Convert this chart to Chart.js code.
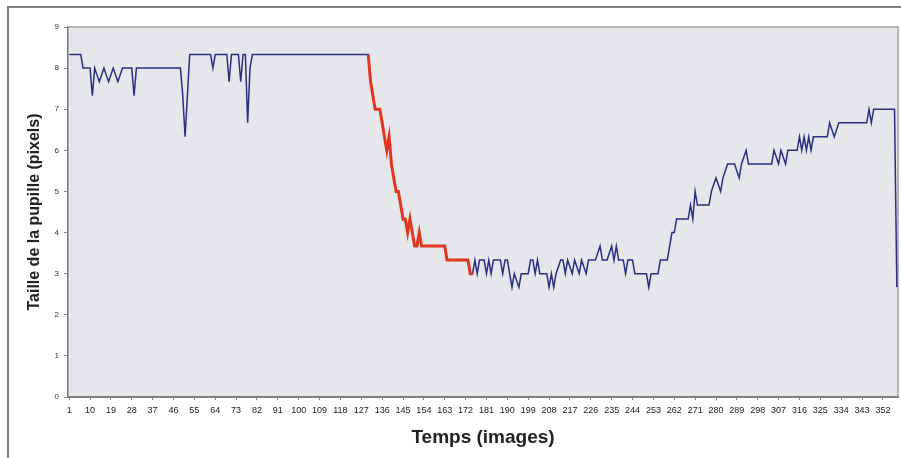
<!DOCTYPE html>
<html>
<head>
<meta charset="utf-8">
<style>
  html, body { margin: 0; padding: 0; background: #fff; }
  #wrap { width: 901px; height: 458px; }
</style>
<script src="https://cdn.jsdelivr.net/npm/chart.js@4.4.0/dist/chart.umd.min.js"></script>
</head>
<body>
<div id="wrap"><canvas id="pupil-chart" width="901" height="458"></canvas></div>
<script>
// Données (sommets de la courbe)
const frames = [
  1, 6, 7, 10, 11, 12, 14, 16, 18, 20, 22, 24, 28, 29, 30,
  49, 50, 51, 53, 62, 63, 64, 69, 70, 71, 74, 75, 76, 77, 78, 79, 80,
  130, 131, 132, 133, 135, 136, 137, 138, 139, 140, 141, 142, 143, 144, 145, 146,
  147, 148, 149, 150, 151, 152, 153, 163, 164, 173, 174, 175,
  176, 177, 178, 180, 181, 182, 183, 184, 187, 188, 189, 190, 191, 192, 193, 195, 196,
  199, 200, 201, 202, 203, 204, 207, 208, 209, 210, 211, 213,
  214, 215, 216, 218, 219, 221, 222, 224, 225, 228, 230, 231, 233, 235, 236, 237, 238,
  240, 241, 242, 244, 245, 249, 250, 251, 252, 255, 256, 259, 260, 261, 262, 263,
  268, 269, 270, 271, 272, 277, 278, 280, 282, 283, 285, 288, 290, 291, 293, 294,
  304, 305, 307, 308, 310, 311, 315, 316, 317, 318, 319, 320, 321, 322, 328,
  329, 331, 333, 345, 346, 347, 348, 357, 358
];
const pupilSize = [
  8.33, 8.33, 8, 8, 7.33, 8, 7.67, 8, 7.67, 8, 7.67, 8, 8, 7.33, 8,
  8, 7.33, 6.33, 8.33, 8.33, 8, 8.33, 8.33, 7.67, 8.33, 8.33, 7.67, 8.33, 8.33, 6.67, 8, 8.33,
  8.33, 7.67, 7.33, 7, 7, 6.67, 6.33, 6, 6.33, 5.67, 5.33, 5, 5, 4.67, 4.33, 4.33,
  4, 4.33, 4, 3.67, 3.67, 4, 3.67, 3.67, 3.33, 3.33, 3, 3,
  3.33, 3, 3.33, 3.33, 3, 3.33, 3, 3.33, 3.33, 3, 3.33, 3.33, 3, 2.67, 3, 2.67, 3,
  3, 3.33, 3.33, 3, 3.33, 3, 3, 2.67, 3, 2.67, 3, 3.33,
  3.33, 3, 3.33, 3, 3.33, 3, 3.33, 3, 3.33, 3.33, 3.67, 3.33, 3.33, 3.67, 3.33, 3.67, 3.33,
  3.33, 3, 3.33, 3.33, 3, 3, 3, 2.67, 3, 3, 3.33, 3.33, 3.67, 4, 4, 4.33,
  4.33, 4.67, 4.33, 5, 4.67, 4.67, 5, 5.33, 5, 5.33, 5.67, 5.67, 5.33, 5.67, 6, 5.67,
  5.67, 6, 5.67, 6, 5.67, 6, 6, 6.33, 6, 6.33, 6, 6.33, 6, 6.33, 6.33,
  6.67, 6.33, 6.67, 6.67, 7, 6.67, 7, 7, 2.67
];
// Partie en rouge (constriction de la pupille)
const redFrom = 130;
const redTo = 175;
const xTickLabels = [
  1, 10, 19, 28, 37, 46, 55, 64, 73, 82, 91, 100, 109, 118, 127, 136, 145, 154, 163,
  172, 181, 190, 199, 208, 217, 226, 235, 244, 253, 262, 271, 280, 289, 298, 307,
  316, 325, 334, 343, 352
];
const yTickLabels = [0, 1, 2, 3, 4, 5, 6, 7, 8, 9];

const FONT = "'Liberation Sans', Arial, sans-serif";

const points = frames.map((f, i) => ({ x: f, y: pupilSize[i] }));
const redPoints = points.filter(p => p.x >= redFrom && p.x <= redTo);

// fond de la zone de tracé + cadre
const backgroundPlugin = {
  id: 'backgroundPlugin',
  beforeDraw(chart) {
    const ctx = chart.ctx;
    const a = chart.chartArea;
    ctx.save();
    ctx.fillStyle = '#ffffff';
    ctx.fillRect(0, 0, chart.width, chart.height);
    ctx.fillStyle = '#e5e7eb';
    ctx.fillRect(a.left, a.top, a.right - a.left, a.bottom - a.top);
    ctx.strokeStyle = '#a0a0a0';
    ctx.lineWidth = 1.5;
    ctx.beginPath();
    ctx.moveTo(a.left, a.top);
    ctx.lineTo(a.right, a.top);
    ctx.lineTo(a.right, a.bottom);
    ctx.stroke();
    // cadre extérieur (haut + gauche)
    ctx.strokeStyle = '#7d7d7d';
    ctx.lineWidth = 2;
    ctx.beginPath();
    ctx.moveTo(chart.width, 7);
    ctx.lineTo(8, 7);
    ctx.lineTo(8, chart.height);
    ctx.stroke();
    ctx.restore();
  }
};

const ctx = document.getElementById('pupil-chart').getContext('2d');
window.pupilChart = new Chart(ctx, {
  type: 'line',
  data: {
    datasets: [
      {
        label: 'constriction',
        data: redPoints,
        borderColor: '#e2361f',
        borderWidth: 3,
        pointRadius: 0,
        tension: 0,
        fill: false
      },
      {
        label: 'pupille',
        data: points,
        borderColor: '#2b2f80',
        borderWidth: 1.5,
        pointRadius: 0,
        tension: 0,
        fill: false
      }
    ]
  },
  options: {
    responsive: false,
    animation: false,
    devicePixelRatio: 1,
    layout: {
      padding: { top: 27, right: 3, left: 0, bottom: 0 }
    },
    plugins: {
      legend: { display: false },
      tooltip: { enabled: false }
    },
    scales: {
      x: {
        type: 'linear',
        min: 0.5,
        max: 358.5,
        afterBuildTicks: scale => {
          scale.ticks = xTickLabels.map(v => ({ value: v }));
        },
        afterFit: scale => { scale.height = 61; },
        ticks: {
          autoSkip: false,
          maxRotation: 0,
          minRotation: 0,
          padding: 5,
          color: '#222',
          font: { family: FONT, size: 9 }
        },
        grid: {
          drawOnChartArea: false,
          tickLength: 3,
          color: '#888'
        },
        border: { color: '#808080', width: 2 },
        title: {
          display: true,
          text: 'Temps (images)',
          color: '#222',
          font: { family: FONT, size: 19, weight: 'bold' },
          padding: { top: 0, bottom: 9 }
        }
      },
      y: {
        type: 'linear',
        min: 0,
        max: 9,
        afterBuildTicks: scale => {
          scale.ticks = yTickLabels.map(v => ({ value: v }));
        },
        afterFit: scale => { scale.width = 68; },
        ticks: {
          padding: 5,
          color: '#333',
          font: { family: FONT, size: 8 }
        },
        grid: {
          drawOnChartArea: false,
          tickLength: 4,
          color: '#888'
        },
        border: { color: '#777', width: 1.5 },
        title: {
          display: true,
          text: 'Taille de la pupille (pixels)',
          color: '#222',
          font: { family: FONT, size: 16, weight: 'bold' },
          padding: { top: 25, bottom: 0 }
        }
      }
    }
  },
  plugins: [backgroundPlugin]
});
</script>
</body>
</html>
